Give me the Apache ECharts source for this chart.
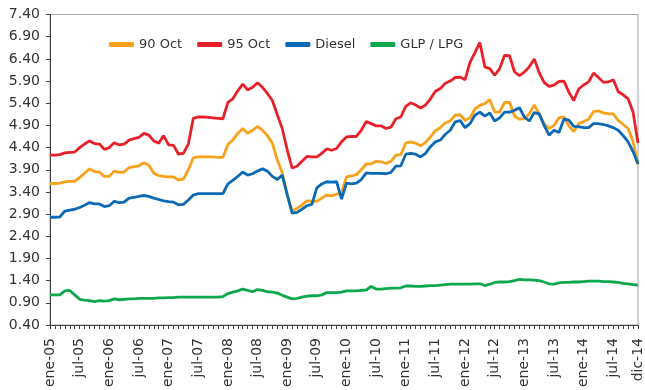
<!DOCTYPE html>
<html>
<head>
<meta charset="utf-8">
<script src="https://cdn.jsdelivr.net/npm/echarts@6/dist/echarts.min.js"></script>
<style>
  html, body { margin: 0; padding: 0; background: #ffffff; }
  #chart { width: 645px; height: 390px; }
</style>
</head>
<body>
<div id="chart"></div>
<script>
// Monthly fuel prices, January 2005 – December 2014
const monthNames = ['ene', 'feb', 'mar', 'abr', 'may', 'jun', 'jul', 'ago', 'sep', 'oct', 'nov', 'dic'];
const yearLabels = ['05', '06', '07', '08', '09', '10', '11', '12', '13', '14'];
const categories = yearLabels.flatMap(y => monthNames.map(m => m + '-' + y));

const seriesNames = ['90 Oct', '95 Oct', 'Diesel', 'GLP / LPG'];

const oct90 = [
  3.59, 3.59, 3.60, 3.63, 3.64, 3.64, 3.73, 3.82, 3.92, 3.86, 3.85, 3.75,
  3.75, 3.87, 3.84, 3.85, 3.95, 3.97, 3.99, 4.06, 4.00, 3.82, 3.77, 3.75,
  3.74, 3.74, 3.67, 3.69, 3.90, 4.17, 4.19, 4.19, 4.19, 4.19, 4.18, 4.18,
  4.47, 4.57, 4.72, 4.83, 4.72, 4.79, 4.88, 4.79, 4.67, 4.50, 4.12, 3.83,
  3.34, 2.97, 3.03, 3.11, 3.20, 3.19, 3.19, 3.26, 3.33, 3.31, 3.35, 3.38,
  3.74, 3.76, 3.79, 3.90, 4.03, 4.03, 4.09, 4.08, 4.04, 4.09, 4.23, 4.24,
  4.50, 4.53, 4.50, 4.44, 4.52, 4.64, 4.78, 4.85, 4.96, 5.00, 5.13, 5.14,
  5.01, 5.07, 5.27, 5.35, 5.39, 5.48, 5.20, 5.20, 5.42, 5.42, 5.11, 5.04,
  5.05, 5.16, 5.36, 5.16, 4.94, 4.83, 4.90, 5.07, 5.09, 4.89, 4.76, 4.94,
  4.99, 5.04, 5.21, 5.23, 5.18, 5.16, 5.16, 5.01, 4.92, 4.83, 4.53, 4.02
];

const oct95 = [
  4.23, 4.23, 4.24, 4.28, 4.29, 4.30, 4.40, 4.48, 4.55, 4.49, 4.48, 4.36,
  4.40, 4.51, 4.46, 4.48, 4.57, 4.60, 4.63, 4.72, 4.68, 4.55, 4.50, 4.67,
  4.46, 4.45, 4.25, 4.27, 4.48, 5.06, 5.09, 5.09, 5.08, 5.07, 5.06, 5.05,
  5.42, 5.50, 5.68, 5.83, 5.70, 5.76, 5.86, 5.76, 5.62, 5.46, 5.14, 4.83,
  4.35, 3.94, 3.98, 4.09, 4.20, 4.19, 4.19, 4.27, 4.37, 4.34, 4.38, 4.53,
  4.64, 4.65, 4.65, 4.79, 4.99, 4.94, 4.89, 4.89, 4.83, 4.86, 5.05, 5.09,
  5.33, 5.41, 5.36, 5.29, 5.36, 5.50, 5.67, 5.73, 5.85, 5.90, 5.98, 5.99,
  5.93, 6.32, 6.54, 6.77, 6.22, 6.18, 6.03, 6.18, 6.48, 6.47, 6.11, 6.02,
  6.10, 6.22, 6.40, 6.09, 5.87, 5.78, 5.81, 5.89, 5.90, 5.65, 5.46, 5.72,
  5.81, 5.88, 6.08, 5.98, 5.87, 5.88, 5.93, 5.66, 5.59, 5.50, 5.20, 4.50
];

const diesel = [
  2.83, 2.83, 2.84, 2.97, 2.99, 3.01, 3.05, 3.10, 3.16, 3.13, 3.13, 3.07,
  3.09, 3.19, 3.16, 3.17, 3.26, 3.28, 3.30, 3.32, 3.30, 3.26, 3.23, 3.20,
  3.18, 3.17, 3.11, 3.12, 3.22, 3.33, 3.36, 3.36, 3.36, 3.36, 3.36, 3.36,
  3.58, 3.66, 3.75, 3.85, 3.78, 3.81, 3.87, 3.92, 3.87, 3.75, 3.68, 3.78,
  3.34, 2.92, 2.94, 3.01, 3.09, 3.12, 3.49, 3.58, 3.63, 3.62, 3.63, 3.24,
  3.60, 3.58, 3.60, 3.68, 3.83, 3.82, 3.82, 3.82, 3.81, 3.84, 3.98, 3.99,
  4.25, 4.27, 4.25, 4.19, 4.27, 4.42, 4.53, 4.57, 4.70, 4.79, 4.98, 5.01,
  4.85, 4.94, 5.13, 5.20, 5.11, 5.18, 5.00, 5.07, 5.20, 5.20, 5.24, 5.30,
  5.09, 5.00, 5.19, 5.16, 4.90, 4.68, 4.79, 4.74, 5.04, 5.02, 4.88, 4.87,
  4.85, 4.85, 4.94, 4.94, 4.92, 4.89, 4.85, 4.79, 4.67, 4.53, 4.31, 4.03
];

const glp = [
  1.08, 1.08, 1.08, 1.17, 1.18, 1.08, 0.98, 0.96, 0.95, 0.93, 0.95, 0.94,
  0.95, 0.99, 0.97, 0.98, 0.99, 0.99, 1.00, 1.00, 1.00, 1.00, 1.01, 1.01,
  1.02, 1.02, 1.03, 1.03, 1.03, 1.03, 1.03, 1.03, 1.03, 1.03, 1.03, 1.04,
  1.11, 1.14, 1.17, 1.21, 1.18, 1.15, 1.20, 1.18, 1.15, 1.14, 1.12, 1.07,
  1.03, 0.99, 1.00, 1.03, 1.05, 1.06, 1.06, 1.08, 1.13, 1.13, 1.13, 1.14,
  1.17, 1.17, 1.17, 1.18, 1.19, 1.27, 1.21, 1.21, 1.22, 1.23, 1.23, 1.24,
  1.28, 1.28, 1.27, 1.27, 1.28, 1.29, 1.29, 1.30, 1.31, 1.32, 1.32, 1.32,
  1.32, 1.32, 1.33, 1.33, 1.29, 1.32, 1.36, 1.37, 1.37, 1.38, 1.40, 1.43,
  1.42, 1.42, 1.41, 1.40, 1.37, 1.33, 1.32, 1.35, 1.36, 1.36, 1.37, 1.37,
  1.38, 1.39, 1.39, 1.39, 1.38, 1.38, 1.37, 1.36, 1.34, 1.33, 1.31, 1.30
];

const colors = ['#F8A11B', '#E8202A', '#0B69B5', '#0DA84B'];
const seriesData = [oct90, oct95, diesel, glp];

const chart = echarts.init(document.getElementById('chart'), null, { renderer: 'canvas' });

const textStyleBase = { fontFamily: 'DejaVu Sans', color: '#333333' };

chart.setOption({
  animation: false,
  backgroundColor: '#ffffff',
  color: colors,
  grid: {
    left: 50, right: 2, top: 14.5, bottom: 61,
    show: true, borderColor: '#a6a6a6', borderWidth: 1,
    containLabel: false
  },
  legend: {
    data: seriesNames,
    left: 104,
    top: 33,
    itemWidth: 25,
    itemHeight: 5,
    itemGap: 15,
    icon: 'roundRect',
    textStyle: Object.assign({ fontSize: 13 }, textStyleBase)
  },
  xAxis: {
    type: 'category',
    data: categories,
    boundaryGap: false,
    axisLine: { lineStyle: { color: '#404040', width: 1 } },
    axisTick: { show: true, interval: 0, length: 4, lineStyle: { color: '#404040' } },
    axisLabel: {
      rotate: 90,
      margin: 13,
      fontSize: 14,
      fontFamily: 'DejaVu Sans',
      color: '#333333',
      interval: (idx) => idx % 6 === 0 || idx === categories.length - 1
    },
    splitLine: { show: false }
  },
  yAxis: {
    type: 'value',
    min: 0.4,
    max: 7.4,
    interval: 0.5,
    axisLine: { show: true, lineStyle: { color: '#404040', width: 1 } },
    axisTick: { show: true, length: 4, lineStyle: { color: '#404040' } },
    axisLabel: {
      margin: 10,
      fontSize: 14,
      fontFamily: 'DejaVu Sans',
      color: '#333333',
      formatter: (v) => v.toFixed(2)
    },
    splitLine: { show: false }
  },
  series: seriesNames.map((name, k) => ({
    name: name,
    type: 'line',
    data: seriesData[k],
    symbol: 'none',
    smooth: false,
    lineStyle: { width: 2.8, color: colors[k] },
    itemStyle: { color: colors[k] }
  }))
});
</script>
</body>
</html>
